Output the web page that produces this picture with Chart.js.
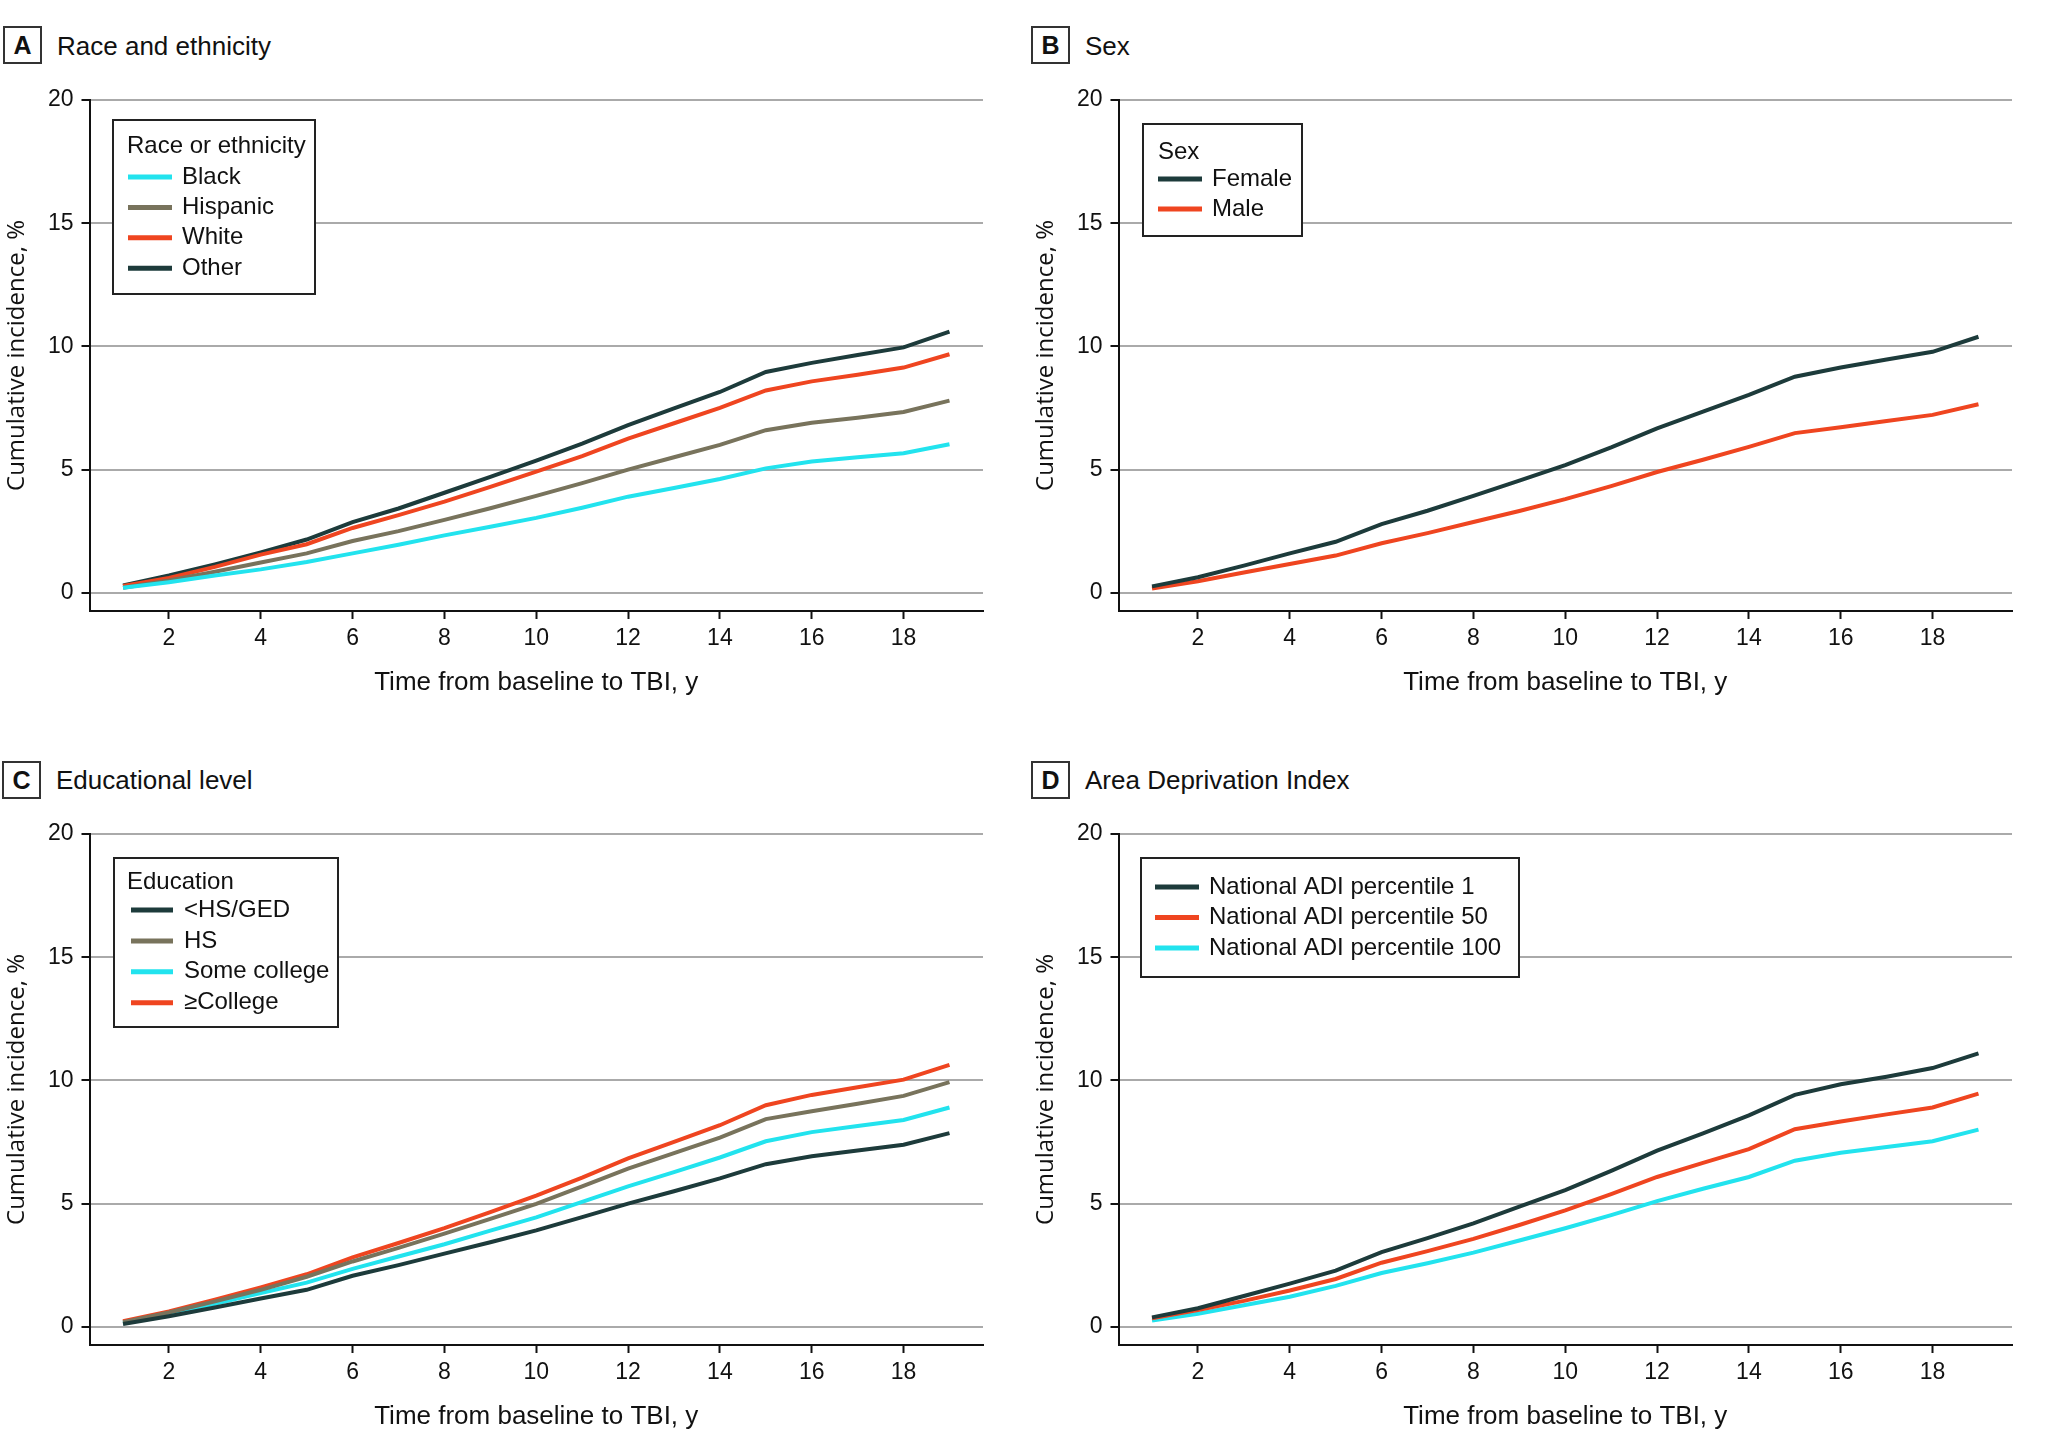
<!DOCTYPE html>
<html>
<head>
<meta charset="utf-8">
<script src="https://cdn.jsdelivr.net/npm/chart.js@4.4.1/dist/chart.umd.min.js"></script>
<style>
  body { margin: 0; background: #fff; width: 2048px; height: 1447px; position: relative; overflow: hidden;
         font-family: "Liberation Sans", Arial, sans-serif; color: #111; }
  canvas { position: absolute; }
  .tag { position: absolute; box-sizing: border-box; width: 39px; height: 38px; border: 2px solid #333;
         font-weight: bold; font-size: 25px; line-height: 34px; text-align: center; }
  .head { position: absolute; font-size: 26px; line-height: 30px; white-space: nowrap; }
</style>
</head>
<body>
<div class="tag" style="left:3px;top:26px">A</div><div class="head" style="left:57px;top:31px">Race and ethnicity</div>
<div class="tag" style="left:1031px;top:26px">B</div><div class="head" style="left:1085px;top:31px">Sex</div>
<div class="tag" style="left:2px;top:761px">C</div><div class="head" style="left:56px;top:765px">Educational level</div>
<div class="tag" style="left:1031px;top:761px">D</div><div class="head" style="left:1085px;top:765px">Area Deprivation Index</div>

<canvas id="cA" width="1019" height="713" style="left:0;top:0"></canvas>
<canvas id="cB" width="1019" height="713" style="left:1029px;top:0"></canvas>
<canvas id="cC" width="1019" height="713" style="left:0;top:734px"></canvas>
<canvas id="cD" width="1019" height="713" style="left:1029px;top:734px"></canvas>

<script>
// years since baseline
const years = [1, 2, 3, 4, 5, 6, 7, 8, 9, 10, 11, 12, 13, 14, 15, 16, 17, 18, 19];
const xTicks = [2, 4, 6, 8, 10, 12, 14, 16, 18];
const yTicks = [0, 5, 10, 15, 20];

// A - race and ethnicity
const raceBlack    = [0.20, 0.43, 0.70, 0.95, 1.25, 1.60, 1.95, 2.33, 2.68, 3.04, 3.45, 3.90, 4.25, 4.62, 5.05, 5.33, 5.50, 5.66, 6.03];
const raceHispanic = [0.20, 0.50, 0.85, 1.23, 1.60, 2.10, 2.50, 2.96, 3.43, 3.93, 4.45, 5.00, 5.50, 6.00, 6.60, 6.90, 7.10, 7.34, 7.80];
const raceWhite    = [0.28, 0.60, 1.05, 1.55, 1.97, 2.63, 3.15, 3.70, 4.30, 4.92, 5.55, 6.26, 6.88, 7.50, 8.21, 8.58, 8.85, 9.14, 9.68];
const raceOther    = [0.30, 0.70, 1.15, 1.64, 2.16, 2.87, 3.42, 4.06, 4.70, 5.36, 6.05, 6.80, 7.48, 8.15, 8.96, 9.33, 9.65, 9.96, 10.60];

// B - sex
const sexFemale = [0.26, 0.63, 1.10, 1.60, 2.07, 2.79, 3.33, 3.93, 4.55, 5.18, 5.90, 6.67, 7.35, 8.03, 8.77, 9.14, 9.47, 9.78, 10.39];
const sexMale   = [0.17, 0.47, 0.82, 1.17, 1.51, 2.01, 2.42, 2.87, 3.32, 3.80, 4.33, 4.90, 5.40, 5.92, 6.48, 6.72, 6.97, 7.22, 7.65];

// C - education
const eduLessHS      = [0.11, 0.43, 0.78, 1.15, 1.50, 2.07, 2.50, 2.97, 3.43, 3.91, 4.45, 5.00, 5.50, 6.02, 6.60, 6.92, 7.15, 7.39, 7.86];
const eduHS          = [0.19, 0.58, 1.03, 1.50, 2.03, 2.65, 3.20, 3.78, 4.38, 4.99, 5.70, 6.42, 7.05, 7.68, 8.43, 8.75, 9.05, 9.37, 9.93];
const eduSomeCollege = [0.15, 0.53, 0.93, 1.37, 1.79, 2.35, 2.85, 3.35, 3.90, 4.44, 5.07, 5.70, 6.28, 6.87, 7.53, 7.90, 8.15, 8.39, 8.90];
const eduCollege     = [0.23, 0.62, 1.10, 1.60, 2.13, 2.82, 3.40, 4.00, 4.65, 5.32, 6.05, 6.83, 7.50, 8.18, 8.99, 9.41, 9.72, 10.03, 10.63];

// D - area deprivation index
const adi1   = [0.38, 0.75, 1.25, 1.75, 2.28, 3.03, 3.60, 4.20, 4.88, 5.55, 6.33, 7.15, 7.85, 8.58, 9.41, 9.84, 10.15, 10.50, 11.10];
const adi50  = [0.34, 0.68, 1.05, 1.47, 1.94, 2.60, 3.07, 3.57, 4.13, 4.72, 5.38, 6.08, 6.65, 7.21, 8.02, 8.33, 8.62, 8.90, 9.46];
const adi100 = [0.25, 0.53, 0.87, 1.22, 1.66, 2.18, 2.58, 3.01, 3.50, 4.00, 4.53, 5.10, 5.60, 6.08, 6.74, 7.06, 7.30, 7.53, 8.00];

const CYAN = '#22e3ee', OLIVE = '#78735c', RED = '#ef4520', DARK = '#1d3b3b';
const FONT = '"Liberation Sans", Arial, sans-serif';

Chart.defaults.font.family = FONT;
Chart.defaults.color = '#111';

// legend drawn as a framed box inside the plot
const boxLegend = {
  id: 'boxLegend',
  afterDraw(chart, args, o) {
    const ctx = chart.ctx;
    ctx.save();
    ctx.fillStyle = '#fff';
    ctx.fillRect(o.x, o.y, o.w, o.h);
    ctx.strokeStyle = '#222';
    ctx.lineWidth = 2;
    ctx.strokeRect(o.x, o.y, o.w, o.h);
    ctx.font = '24px ' + FONT;
    ctx.textBaseline = 'middle';
    ctx.fillStyle = '#111';
    if (o.title) ctx.fillText(o.title, o.titleX, o.titleY);
    chart.data.datasets.forEach((ds, i) => {
      const ry = o.row0 + i * o.gap;
      ctx.strokeStyle = ds.borderColor;
      ctx.lineWidth = 5;
      ctx.beginPath();
      ctx.moveTo(o.lx0, ry);
      ctx.lineTo(o.lx1, ry);
      ctx.stroke();
      ctx.fillText(ds.label, o.tx, ry);
    });
    ctx.restore();
  }
};

function series(label, vals, color) {
  return {
    label: label,
    data: years.map((x, i) => ({ x: x, y: vals[i] })),
    borderColor: color,
    borderWidth: 4,
    pointRadius: 0,
    tension: 0,
    fill: false
  };
}

function makeChart(id, datasets, legend) {
  return new Chart(document.getElementById(id), {
    type: 'line',
    data: { datasets: datasets },
    plugins: [boxLegend],
    options: {
      responsive: false,
      animation: false,
      devicePixelRatio: 1,
      layout: { padding: { left: 0, top: 100, right: 36, bottom: 0 } },
      plugins: { legend: { display: false }, tooltip: { enabled: false }, boxLegend: legend },
      scales: {
        x: {
          type: 'linear',
          min: 0.27,
          max: 19.73,
          afterBuildTicks: s => { s.ticks = xTicks.map(v => ({ value: v })); },
          afterFit: s => { s.height = 102; },
          grid: { drawOnChartArea: false, tickLength: 8, tickColor: '#111', tickWidth: 2 },
          border: { color: '#111', width: 2 },
          ticks: { font: { size: 23 }, padding: 6, maxRotation: 0 },
          title: { display: true, text: 'Time from baseline to TBI, y', font: { size: 26 }, padding: { top: 0, bottom: 15 } }
        },
        y: {
          min: -0.74,
          max: 20,
          afterBuildTicks: s => { s.ticks = yTicks.map(v => ({ value: v })); },
          afterFit: s => { s.width = 89.5; },
          grid: { color: '#aaaaaa', lineWidth: 2, tickLength: 8, tickColor: '#111', tickWidth: 2 },
          border: { color: '#111', width: 2 },
          ticks: { font: { size: 23 }, padding: 8 },
          title: { display: true, text: 'Cumulative incidence, %', font: { family: '"Open Sans", sans-serif', size: 24 }, padding: { top: 3, bottom: 0 } }
        }
      }
    }
  });
}

makeChart('cA', [
  series('Black', raceBlack, CYAN),
  series('Hispanic', raceHispanic, OLIVE),
  series('White', raceWhite, RED),
  series('Other', raceOther, DARK)
], { x: 113, y: 120, w: 202, h: 174, title: 'Race or ethnicity', titleX: 127, titleY: 146, row0: 177, gap: 30.4, lx0: 128, lx1: 172, tx: 182 });

makeChart('cB', [
  series('Female', sexFemale, DARK),
  series('Male', sexMale, RED)
], { x: 114, y: 124, w: 159, h: 112, title: 'Sex', titleX: 129, titleY: 152, row0: 179, gap: 30, lx0: 129, lx1: 173, tx: 183 });

makeChart('cC', [
  series('<HS/GED', eduLessHS, DARK),
  series('HS', eduHS, OLIVE),
  series('Some college', eduSomeCollege, CYAN),
  series('\u2265College', eduCollege, RED)
], { x: 114, y: 124, w: 224, h: 169, title: 'Education', titleX: 127, titleY: 148, row0: 176, gap: 30.9, lx0: 131, lx1: 173, tx: 184 });

makeChart('cD', [
  series('National ADI percentile 1', adi1, DARK),
  series('National ADI percentile 50', adi50, RED),
  series('National ADI percentile 100', adi100, CYAN)
], { x: 112, y: 124, w: 378, h: 119, title: null, row0: 153, gap: 30.5, lx0: 126, lx1: 170, tx: 180 });
</script>
</body>
</html>
